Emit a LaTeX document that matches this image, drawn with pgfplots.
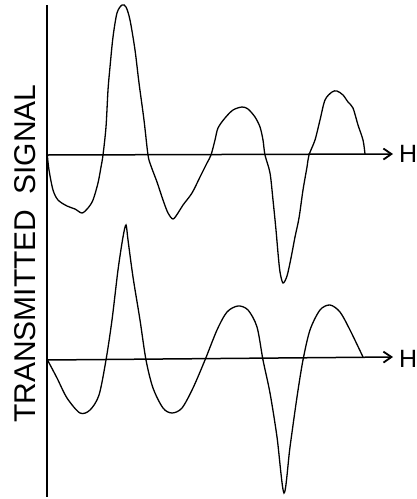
\documentclass[border=0pt]{standalone}
\usepackage{fontspec}
\setmainfont{Liberation Sans}
\usepackage{pgfplots}
\pgfplotsset{compat=1.18}
\usetikzlibrary{arrows.meta}

% Signal traces (horizontal position, vertical position measured downward)
\pgfplotstableread{
x y
47.3 155
49 170
53 190
58 200
67 206
75 209
82 213
88 208
93 200
98 183
101 167
103 155
106 127
108 90
110 67
113 37
117 13
122 5
126 7
130 20
135 50
139 83
144 120
148 155
151 166
157 182
163 200
168 213
173 219
178 213
183 205
192 193
200 177
207 163
211 155
215 140
218 128
225 118
233 110
242 107
248 109
255 117
260 127
263 140
265 155
270 173
273 200
276 230
278 253
280 272
283 283
287 276
291 258
295 237
299 218
303 190
307 167
309 155
315 140
320 120
325 100
332 92
337 91
343 95
348 102
353 108
358 125
363 140
365 154
}\measured

\pgfplotstableread{
x y
47.5 360
57 378
67 398
80 413
90 410
99 395
106 360
112 320
118 270
123 237
126 225
128 240
133 277
140 320
146 360
153 388
163 408
172 413
182 408
193 388
205 360
217 330
227 312
238 306
248 310
257 327
263 360
270 393
277 437
284 493
290 447
297 397
303 360
310 330
320 310
330 305
340 312
350 330
363 357
}\transmitted

\begin{document}
\begin{tikzpicture}
\begin{axis}[
  at={(0pt,0pt)}, anchor=south west,
  scale only axis, x=1pt, y=1pt,
  xmin=0, xmax=417, ymin=0, ymax=499,
  y dir=reverse,
  hide axis, clip=false,
]
% vertical axis
\draw[line width=2.4pt] (axis cs:47,5) -- (axis cs:47,497);
% zero lines with arrows
\draw[line width=1.5pt, -{Straight Barb[length=8pt,width=11pt,line width=1.8pt]}]
  (axis cs:47,155) -- (axis cs:393,154);
\draw[line width=1.5pt, -{Straight Barb[length=8pt,width=11pt,line width=1.8pt]}]
  (axis cs:47,360) -- (axis cs:393,357);

\addplot[black, line width=1.3pt, smooth, tension=0.5] table {\measured};
\addplot[black, line width=1.3pt, smooth, tension=0.5] table {\transmitted};

\node[anchor=west, inner sep=0pt, font=\fontsize{25}{28}\selectfont] at (axis cs:399,154) {H};
\node[anchor=west, inner sep=0pt, font=\fontsize{25}{28}\selectfont] at (axis cs:399,359) {H};

\node[rotate=90, inner sep=0pt, font=\fontsize{30}{33}\selectfont] at (axis cs:25.5,253.5)
  {TRANSMITTED\hspace{0.5em}SIGNAL};
\end{axis}
\pgfresetboundingbox
\useasboundingbox (0pt,0pt) rectangle (417pt,499pt);
\end{tikzpicture}
\end{document}
